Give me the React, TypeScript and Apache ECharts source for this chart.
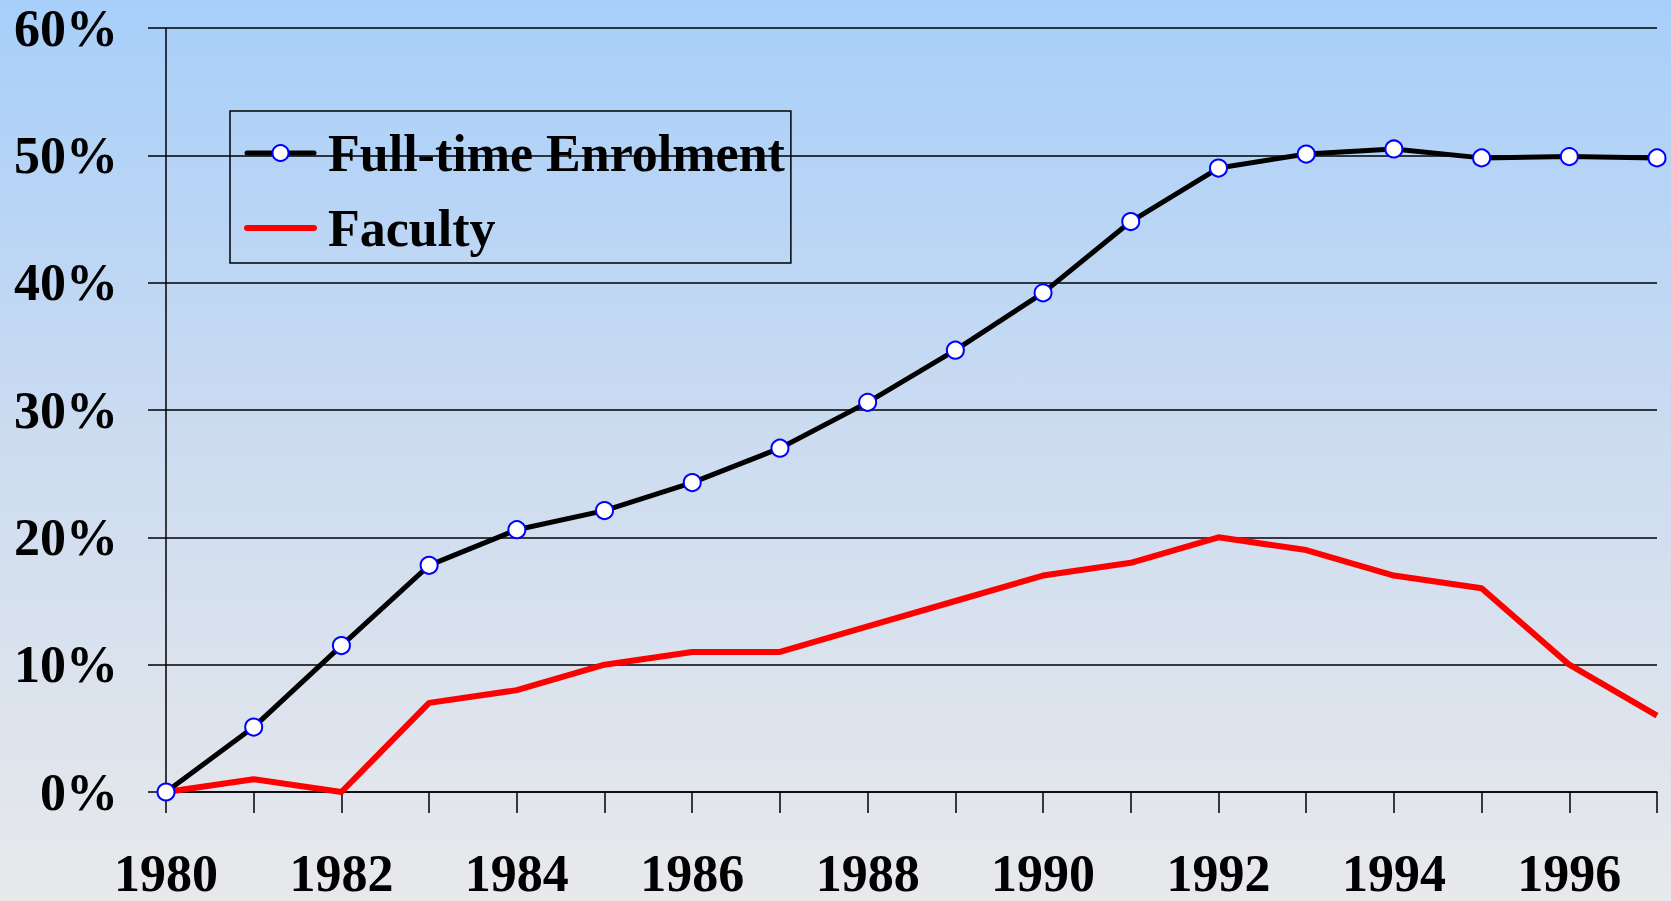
import React, { useEffect, useRef } from "react";
import * as echarts from "echarts";

const years = ["1980","1981","1982","1983","1984","1985","1986","1987","1988","1989","1990","1991","1992","1993","1994","1995","1996","1997"];
const enrolment = [0, 5.1, 11.5, 17.8, 20.6, 22.1, 24.3, 27.0, 30.6, 34.7, 39.2, 44.8, 49.0, 50.1, 50.5, 49.8, 49.9, 49.8];
const faculty = [0, 1.0, 0, 7.0, 8.0, 10.0, 11.0, 11.0, 13.0, 15.0, 17.0, 18.0, 20.0, 19.0, 17.0, 16.0, 10.0, 6.0];
const seriesNames = ["Full-time Enrolment", "Faculty"];

const FONT = "'Liberation Serif', 'Times New Roman', serif";

export default function App() {
  const ref = useRef<HTMLDivElement>(null);
  useEffect(() => {
    if (!ref.current) return;
    const chart = echarts.init(ref.current, undefined, { renderer: "svg" });
    chart.setOption({
      animation: false,
      backgroundColor: new echarts.graphic.LinearGradient(0, 0, 0, 1, [
        { offset: 0, color: "#a7cffa" },
        { offset: 0.5, color: "#cddcf0" },
        { offset: 1, color: "#e8e9eb" },
      ]),
      grid: { left: 166, right: 14, top: 28, bottom: 109, containLabel: false },
      legend: {
        orient: "vertical",
        left: 230,
        top: 111,
        backgroundColor: "transparent",
        borderColor: "#000",
        borderWidth: 1.5,
        borderRadius: 0,
        padding: [16, 6, 9, 14],
        itemWidth: 67,
        itemHeight: 20,
        itemGap: 23,
        data: [
          {
            name: seriesNames[0],
            lineStyle: { color: "#000", width: 5, cap: "round" },
            itemStyle: { color: "#fff", borderColor: "#0000ff", borderWidth: 2 },
          },
          {
            name: seriesNames[1],
            lineStyle: { color: "#ff0000", width: 6, cap: "round" },
            itemStyle: { color: "rgba(0,0,0,0)", borderWidth: 0, opacity: 0 },
          },
        ],
        textStyle: {
          fontFamily: FONT,
          fontWeight: "bold",
          fontSize: 52,
          color: "#000",
          padding: [0, 0, 0, 9],
        },
      },
      xAxis: {
        type: "category",
        data: years,
        boundaryGap: false,
        axisLine: { show: true, lineStyle: { color: "#000", width: 1.5 } },
        axisTick: { show: true, interval: 0, length: 21, inside: false, lineStyle: { color: "#000", width: 1.5 } },
        axisLabel: {
          interval: 1,
          margin: 57,
          lineHeight: 48,
          fontFamily: FONT,
          fontWeight: "bold",
          fontSize: 52,
          color: "#000",
        },
        splitLine: { show: false },
      },
      yAxis: {
        type: "value",
        min: 0,
        max: 60,
        interval: 10,
        axisLine: { show: true, lineStyle: { color: "#000", width: 1.5 } },
        axisTick: { show: true, length: 18, lineStyle: { color: "#000", width: 1.5 } },
        axisLabel: {
          formatter: "{value}%",
          margin: 48,
          fontFamily: FONT,
          fontWeight: "bold",
          fontSize: 52,
          color: "#000",
        },
        splitLine: { show: true, lineStyle: { color: "#000", width: 1.5 } },
      },
      series: [
        {
          name: seriesNames[0],
          type: "line",
          data: enrolment,
          symbol: "circle",
          symbolSize: 17,
          showSymbol: true,
          lineStyle: { color: "#000", width: 5 },
          itemStyle: { color: "#fff", borderColor: "#0000ff", borderWidth: 2 },
          z: 3,
        },
        {
          name: seriesNames[1],
          type: "line",
          data: faculty,
          symbol: "none",
          lineStyle: { color: "#ff0000", width: 6 },
          itemStyle: { color: "#ff0000" },
          z: 2,
        },
      ],
    });
    return () => chart.dispose();
  }, []);
  return (
    <div
      ref={ref}
      style={{ position: "fixed", left: 0, top: 0, width: 1671, height: 901 }}
    />
  );
}
